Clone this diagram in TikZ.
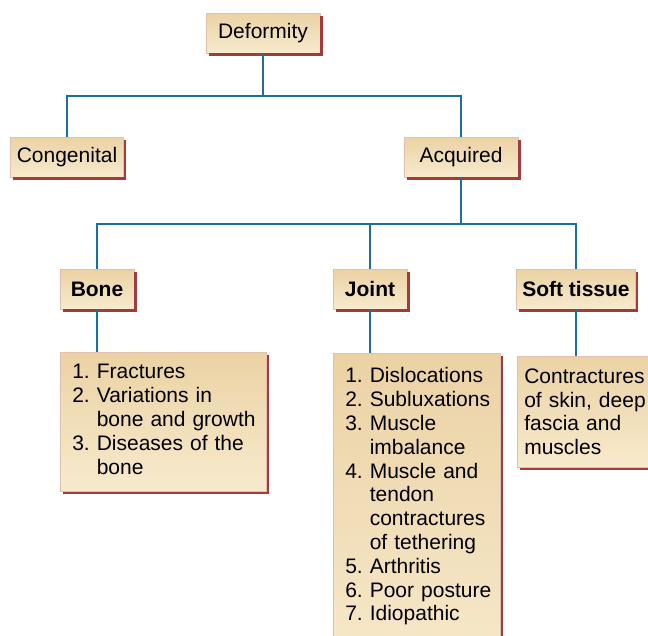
\documentclass[tikz,border=0pt]{standalone}
\usepackage{fontspec}
\setmainfont{Liberation Sans}
\usetikzlibrary{positioning}
\definecolor{boxtop}{HTML}{EBD2A4}
\definecolor{boxbot}{HTML}{F7EACD}
\definecolor{boxedge}{HTML}{E3BFAF}
\definecolor{shadowred}{HTML}{A33A3E}
\definecolor{linkblue}{HTML}{1F6E9C}
\tikzset{
  headbox/.style={rectangle, top color=boxtop, bottom color=boxbot,
    draw=boxedge, line width=0.6pt, minimum height=40pt, inner sep=0pt,
    font=\fontsize{21}{23.8}\selectfont},
  listbox/.style={headbox, anchor=north west, align=left,
    inner xsep=12pt, inner ysep=10pt},
  link/.style={draw=linkblue, line width=2.4pt},
  shadowline/.style={draw=shadowred, line width=2.6pt}
}
\begin{document}
\begin{tikzpicture}[x=1pt, y=-1pt]
            % the frame
            \useasboundingbox (0,0) rectangle (648,635);
            \clip (0,0) rectangle (648,635);
            % the top levels
            \node[headbox, minimum width=114pt] (def) at (263,33) {Deformity};
            \node[headbox, minimum width=113pt] (con) at (67,157) {Congenital};
            \node[headbox, minimum width=114pt] (acq) at (461,157) {Acquired};
            % the groups
            \node[headbox, minimum width=74pt] (bone) at (97,289) {\bfseries Bone};
            \node[headbox, minimum width=74pt] (joint) at (370,289) {\bfseries Joint};
            \node[headbox, minimum width=119pt] (soft) at (576,289) {\bfseries Soft tissue};

            % the lists
            \node[listbox, text width=182pt, minimum height=136pt] (bonelist) at (60,352) {%
                \begin{tabular}{@{}l@{\ }l@{}}
                1. & Fractures\\
                2. & Variations in\\
                   & bone and growth\\
                3. & Diseases of the\\
                   & bone
                \end{tabular}};
            \node[listbox, inner ysep=13pt, text width=143pt, text depth=170pt] (jointlist) at (333,353) {%
                \begin{tabular}{@{}l@{\ }l@{}}
                1. & Dislocations\\
                2. & Subluxations\\
                3. & Muscle\\
                   & imbalance\\
                4. & Muscle and\\
                   & tendon\\
                   & contractures\\
                   & of tethering\\
                5. & Arthritis\\
                6. & Poor posture\\
                7. & Idiopathic
                \end{tabular}};
            \node[listbox, inner xsep=7pt, text width=130pt, minimum height=111pt] (softlist) at (517,356) {%
                Contractures\\ of skin, deep\\ fascia and\\ muscles};

            % shadows
            \foreach \n in {def,con,acq,bone,joint,soft,bonelist,jointlist,softlist} {
                \draw[shadowline] ([xshift=1.3pt,yshift=-3pt]\n.north east)
                    -- ([xshift=1.3pt,yshift=-1.3pt]\n.south east)
                    -- ([xshift=3pt,yshift=-1.3pt]\n.south west);
            };

            % the links
            \coordinate (split1) at (263,96);
            \coordinate (split2) at (461,224);
            \draw[link] (def.south) -- (split1);
            \draw[link] (con.north) |- (split1) -| (acq.north);
            \draw[link] (acq.south) -- (split2);
            \draw[link] (bone.north) |- (split2) -| (soft.north);
            \draw[link] (joint.north) -- (joint.north |- split2);
            \draw[link] (bone.south) -- (bone.south |- bonelist.north);
            \draw[link] (joint.south) -- (joint.south |- jointlist.north);
            \draw[link] (soft.south) -- (soft.south |- softlist.north);
\end{tikzpicture}
\end{document}
